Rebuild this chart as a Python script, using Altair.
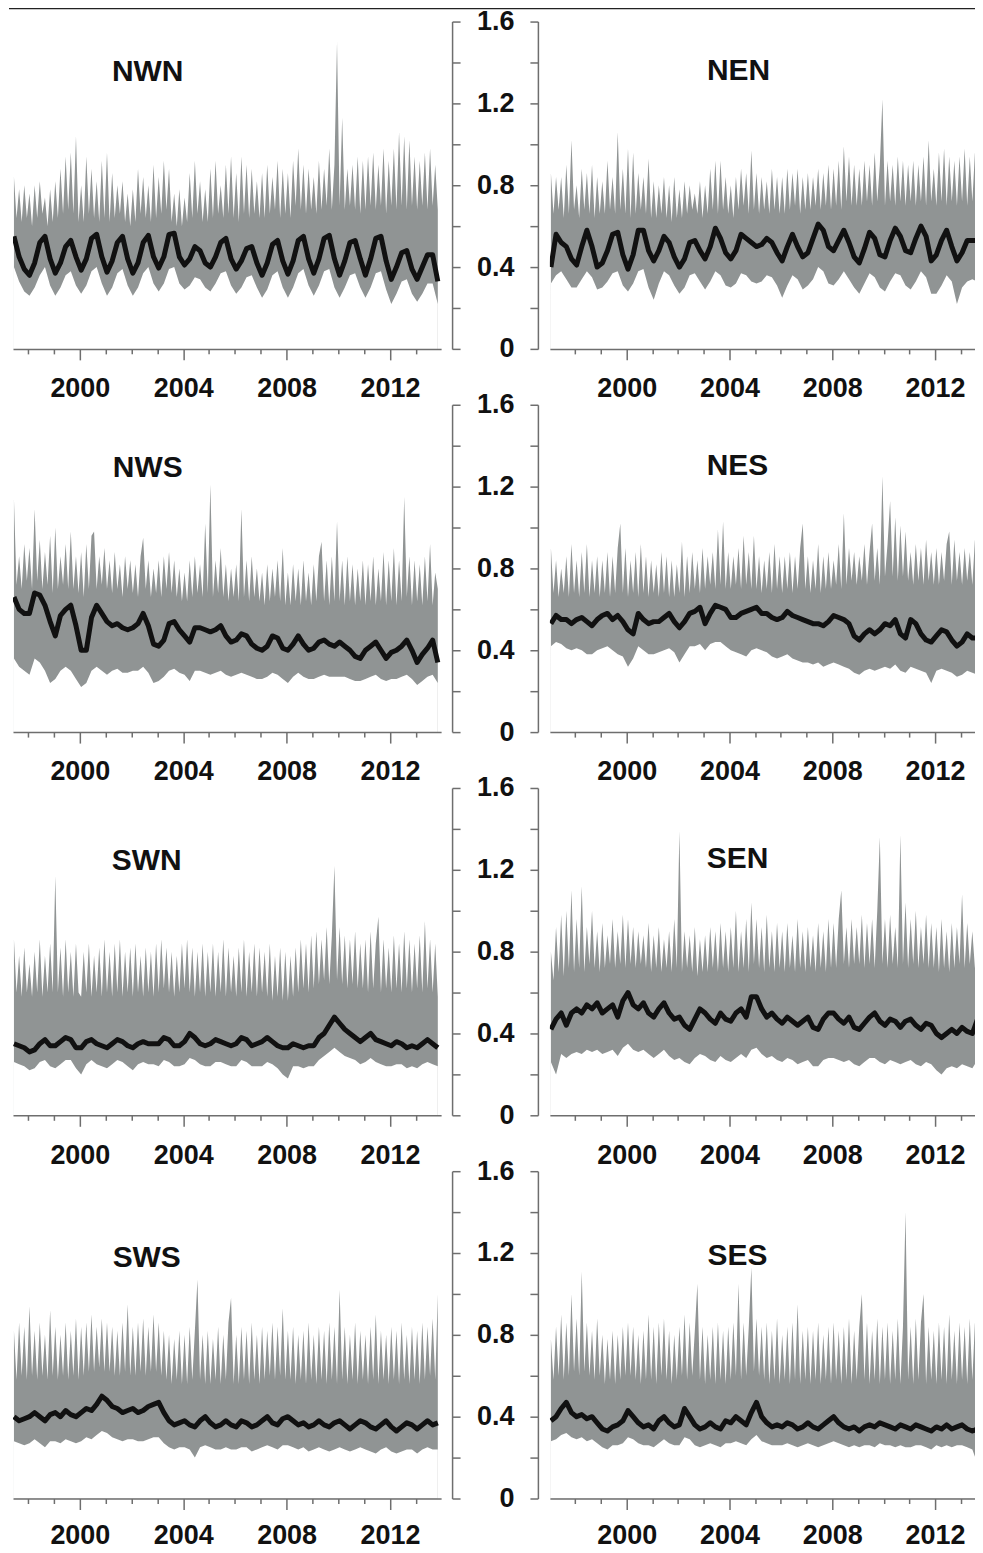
import altair as alt
import pandas as pd

# ---- time grids (decimal years) ----
LEFT_T0 = 1997.45     # first sample of the left-column panels
RIGHT_T0 = 1997.05    # first sample of the right-column panels
UP_STEP = 0.1         # spacing of the upper-envelope samples
LOW_STEP = 0.2        # spacing of lower-envelope and running-mean samples

YEAR_TICKS = list(range(1998, 2014))
Y_TICKS = [0, 0.2, 0.4, 0.6, 0.8, 1.0, 1.2, 1.4, 1.6]

# ================= NWN =================
NWN_UP = [0.84, 0.64, 0.78, 0.62, 0.80, 0.64,
          0.76, 0.60, 0.80, 0.64, 0.82, 0.66, 0.74, 0.60, 0.78, 0.62,
          0.82, 0.64, 0.88, 0.66, 0.94, 0.68, 0.96, 0.66, 1.04, 0.62,
          0.80, 0.62, 0.94, 0.66, 0.88, 0.64, 0.82, 0.62, 0.92, 0.64,
          0.96, 0.62, 0.86, 0.64, 0.80, 0.66, 0.82, 0.62, 0.76, 0.60,
          0.78, 0.62, 0.88, 0.66, 0.84, 0.64, 0.80, 0.62, 0.90, 0.64,
          0.84, 0.66, 0.92, 0.68, 0.88, 0.62, 0.76, 0.60, 0.78, 0.60,
          0.74, 0.62, 0.86, 0.64, 0.92, 0.66, 0.82, 0.62, 0.78, 0.62,
          0.88, 0.64, 0.92, 0.66, 0.80, 0.64, 0.90, 0.66, 0.94, 0.64,
          0.86, 0.62, 0.94, 0.66, 0.90, 0.64, 0.88, 0.66, 0.82, 0.64,
          0.86, 0.64, 0.90, 0.66, 0.84, 0.68, 0.92, 0.64, 0.88, 0.66,
          0.86, 0.64, 0.92, 0.70, 0.98, 0.68, 0.90, 0.66, 0.88, 0.68,
          0.84, 0.66, 0.92, 0.68, 0.88, 0.70, 0.98, 0.68, 0.90, 1.50,
          0.70, 1.13, 0.68, 0.88, 0.70, 0.90, 0.68, 0.94, 0.66, 0.92,
          0.68, 0.94, 0.70, 0.96, 0.68, 0.90, 0.70, 0.98, 0.66, 0.92,
          0.70, 0.98, 0.68, 1.06, 0.70, 1.04, 0.68, 1.02, 0.70, 0.94,
          0.68, 0.92, 0.70, 0.96, 0.68, 0.98, 0.70, 0.90, 0.68]
NWN_LO = [0.40, 0.33, 0.28,
          0.26, 0.30, 0.36, 0.40, 0.31,
          0.26, 0.30, 0.36, 0.38, 0.31,
          0.27, 0.31, 0.38, 0.40, 0.32,
          0.26, 0.30, 0.37, 0.39, 0.31,
          0.26, 0.30, 0.37, 0.40, 0.32,
          0.28, 0.32, 0.39, 0.40, 0.32,
          0.29, 0.31, 0.35, 0.34, 0.30,
          0.28, 0.32, 0.37, 0.38, 0.31,
          0.27, 0.30, 0.35, 0.36, 0.30,
          0.25, 0.29, 0.36, 0.38, 0.30,
          0.25, 0.30, 0.37, 0.39, 0.31,
          0.26, 0.31, 0.38, 0.39, 0.30,
          0.25, 0.30, 0.36, 0.37, 0.30,
          0.25, 0.30, 0.37, 0.38, 0.29,
          0.22, 0.27, 0.33, 0.34, 0.27,
          0.23, 0.27, 0.32, 0.32, 0.22]
NWN_MEAN = [0.55, 0.45, 0.39,
            0.36, 0.42, 0.52, 0.55, 0.44,
            0.37, 0.42, 0.50, 0.53, 0.45,
            0.385, 0.44, 0.54, 0.56, 0.45,
            0.375, 0.43, 0.52, 0.55, 0.44,
            0.37, 0.42, 0.52, 0.555, 0.45,
            0.395, 0.45, 0.56, 0.565, 0.45,
            0.41, 0.44, 0.50, 0.48, 0.42,
            0.40, 0.45, 0.52, 0.54, 0.44,
            0.39, 0.43, 0.49, 0.50, 0.42,
            0.36, 0.42, 0.51, 0.53, 0.43,
            0.365, 0.43, 0.53, 0.55, 0.44,
            0.37, 0.44, 0.54, 0.555, 0.44,
            0.36, 0.43, 0.52, 0.53, 0.44,
            0.36, 0.44, 0.54, 0.55, 0.43,
            0.34, 0.40, 0.47, 0.48, 0.39,
            0.34, 0.40, 0.46, 0.46, 0.33]

# ================= NEN =================
NEN_UP = [0.86, 0.66, 0.84, 0.68, 0.84, 0.64, 0.90, 0.66, 1.02, 0.68,
          0.80, 0.64, 0.88, 0.68, 0.86, 0.66, 0.90, 0.64, 0.84, 0.66,
          0.82, 0.66, 0.92, 0.68, 0.84, 0.66, 1.06, 0.68, 0.88, 0.66,
          0.98, 0.64, 0.96, 0.66, 0.86, 0.68, 0.84, 0.66, 0.93, 0.64,
          0.82, 0.64, 0.80, 0.66, 0.84, 0.64, 0.80, 0.62, 0.84, 0.64,
          0.78, 0.64, 0.82, 0.66, 0.80, 0.68, 0.76, 0.66, 0.82, 0.64,
          0.80, 0.66, 0.88, 0.68, 0.92, 0.66, 0.92, 0.68, 0.84, 0.66,
          0.80, 0.64, 0.84, 0.68, 0.88, 0.70, 0.86, 0.66, 0.97, 0.68,
          0.86, 0.66, 0.84, 0.68, 0.82, 0.66, 0.88, 0.68, 0.84, 0.66,
          0.84, 0.66, 0.88, 0.68, 0.86, 0.70, 0.88, 0.66, 0.84, 0.68,
          0.86, 0.68, 0.84, 0.70, 0.88, 0.68, 0.86, 0.70, 0.90, 0.68,
          0.88, 0.70, 0.92, 0.68, 0.99, 0.72, 0.94, 0.70, 0.90, 0.70,
          0.88, 0.70, 0.92, 0.72, 0.90, 0.70, 0.96, 0.72, 0.90, 1.22,
          0.70, 0.92, 0.72, 0.90, 0.70, 0.94, 0.72, 0.92, 0.70, 0.90,
          0.72, 0.92, 0.70, 0.90, 0.72, 0.94, 0.70, 1.02, 0.72, 0.88,
          0.70, 0.96, 0.72, 0.98, 0.70, 0.94, 0.72, 0.92, 0.70, 0.94,
          0.72, 0.98, 0.70, 0.94, 0.72, 0.96, 0.70, 0.92]
NEN_LO = [0.32, 0.36, 0.38, 0.34, 0.30,
          0.30, 0.34, 0.38, 0.35, 0.29,
          0.30, 0.33, 0.37, 0.38, 0.31,
          0.28, 0.32, 0.38, 0.39, 0.30,
          0.24, 0.32, 0.38, 0.36, 0.31,
          0.27, 0.30, 0.36, 0.37, 0.33,
          0.29, 0.33, 0.38, 0.36, 0.31,
          0.30, 0.32, 0.37, 0.36, 0.33,
          0.32, 0.33, 0.36, 0.35, 0.31,
          0.25, 0.31, 0.36, 0.34, 0.29,
          0.31, 0.34, 0.40, 0.38, 0.32,
          0.31, 0.34, 0.38, 0.34, 0.30,
          0.27, 0.32, 0.37, 0.35, 0.30,
          0.28, 0.33, 0.37, 0.36, 0.31,
          0.29, 0.33, 0.38, 0.35, 0.27,
          0.27, 0.31, 0.36, 0.33, 0.22,
          0.30, 0.33, 0.34, 0.33]
NEN_MEAN = [0.40, 0.56, 0.52, 0.50, 0.44,
            0.41, 0.50, 0.58, 0.50, 0.40,
            0.42, 0.48, 0.56, 0.57, 0.46,
            0.39, 0.46, 0.58, 0.58, 0.48,
            0.43, 0.48, 0.55, 0.52, 0.45,
            0.40, 0.44, 0.52, 0.53, 0.48,
            0.44, 0.50, 0.59, 0.54, 0.47,
            0.44, 0.48, 0.56, 0.54, 0.52,
            0.50, 0.51, 0.54, 0.52, 0.47,
            0.43, 0.50, 0.56, 0.50, 0.45,
            0.47, 0.54, 0.61, 0.58, 0.50,
            0.48, 0.53, 0.58, 0.52, 0.45,
            0.42, 0.49, 0.57, 0.54, 0.46,
            0.45, 0.53, 0.59, 0.55, 0.48,
            0.47, 0.54, 0.60, 0.55, 0.43,
            0.46, 0.53, 0.58, 0.50, 0.43,
            0.47, 0.53, 0.53, 0.53]

# ================= NWS =================
NWS_UP = [1.14, 0.72, 0.86, 0.70, 0.92, 0.74,
          0.90, 0.70, 1.09, 0.74, 0.94, 0.70, 0.88, 0.72, 0.96, 0.68,
          1.00, 0.70, 0.86, 0.72, 0.92, 0.70, 0.98, 0.70, 0.86, 0.68,
          0.88, 0.66, 0.92, 0.70, 0.96, 0.98, 0.70, 0.86, 0.72, 0.90,
          0.70, 0.84, 0.68, 0.88, 0.70, 0.82, 0.66, 0.86, 0.70, 0.84,
          0.68, 0.82, 0.66, 0.86, 0.95, 0.70, 0.84, 0.66, 0.80, 0.68,
          0.84, 0.66, 0.86, 0.70, 0.88, 0.68, 0.84, 0.66, 0.80, 0.64,
          0.78, 0.64, 0.84, 0.66, 0.86, 0.68, 0.82, 0.66, 1.02, 0.68,
          1.21, 0.66, 0.84, 0.68, 0.90, 0.66, 0.82, 0.64, 0.80, 0.66,
          0.82, 0.64, 1.09, 0.66, 0.84, 0.64, 0.86, 0.66, 0.80, 0.64,
          0.78, 0.62, 0.82, 0.64, 0.80, 0.66, 0.84, 0.64, 0.90, 0.62,
          0.78, 0.62, 0.82, 0.64, 0.80, 0.62, 0.84, 0.64, 0.78, 0.62,
          0.82, 0.64, 0.86, 0.93, 0.64, 0.84, 0.62, 0.86, 0.64, 1.03,
          0.64, 0.84, 0.62, 0.86, 0.64, 0.82, 0.62, 0.80, 0.64, 0.84,
          0.62, 0.82, 0.64, 0.86, 0.62, 0.80, 0.64, 0.88, 0.62, 0.84,
          0.64, 0.90, 0.62, 0.84, 0.64, 1.15, 0.66, 0.86, 0.62, 0.84,
          0.64, 0.82, 0.62, 0.86, 0.64, 0.92, 0.62, 0.78, 0.70]
NWS_LO = [0.36, 0.32, 0.30,
          0.28, 0.36, 0.34, 0.30, 0.24,
          0.26, 0.30, 0.32, 0.30, 0.26,
          0.22, 0.24, 0.30, 0.32, 0.30,
          0.28, 0.30, 0.31, 0.29, 0.29,
          0.30, 0.30, 0.32, 0.29, 0.24,
          0.25, 0.27, 0.30, 0.31, 0.29,
          0.28, 0.25, 0.30, 0.30, 0.29,
          0.28, 0.29, 0.30, 0.28, 0.27,
          0.28, 0.29, 0.28, 0.27, 0.26,
          0.26, 0.27, 0.29, 0.28, 0.26,
          0.24, 0.27, 0.29, 0.27, 0.26,
          0.26, 0.27, 0.28, 0.27, 0.27,
          0.27, 0.27, 0.26, 0.25, 0.25,
          0.26, 0.27, 0.28, 0.26, 0.25,
          0.26, 0.26, 0.27, 0.28, 0.26,
          0.23, 0.25, 0.27, 0.28, 0.24]
NWS_MEAN = [0.66, 0.60, 0.58,
            0.58, 0.68, 0.67, 0.62, 0.54,
            0.47, 0.57, 0.60, 0.62, 0.52,
            0.40, 0.40, 0.56, 0.62, 0.58,
            0.54, 0.52, 0.53, 0.51, 0.50,
            0.51, 0.53, 0.58, 0.52, 0.43,
            0.42, 0.45, 0.53, 0.54, 0.50,
            0.47, 0.44, 0.51, 0.51, 0.50,
            0.49, 0.50, 0.52, 0.47, 0.44,
            0.45, 0.48, 0.47, 0.43, 0.41,
            0.40, 0.42, 0.47, 0.46, 0.41,
            0.40, 0.43, 0.47, 0.43, 0.40,
            0.41, 0.44, 0.45, 0.43, 0.42,
            0.44, 0.42, 0.40, 0.37, 0.36,
            0.40, 0.42, 0.44, 0.40, 0.36,
            0.39, 0.40, 0.42, 0.45, 0.40,
            0.34, 0.38, 0.41, 0.45, 0.34]

# ================= NES =================
NES_UP = [0.90, 0.68, 0.84, 0.66, 0.80, 0.68, 0.86, 0.66, 0.92, 0.68,
          0.84, 0.66, 0.88, 0.68, 0.92, 0.66, 0.84, 0.68, 0.86, 0.66,
          0.84, 0.68, 0.88, 0.66, 0.86, 0.68, 0.90, 1.02, 0.68, 0.90,
          0.66, 0.84, 0.68, 0.88, 0.66, 0.92, 0.68, 0.86, 0.66, 0.84,
          0.68, 0.82, 0.66, 0.88, 0.68, 0.86, 0.66, 0.84, 0.66, 0.82,
          0.68, 0.93, 0.66, 0.86, 0.68, 0.88, 0.70, 0.84, 0.68, 0.90,
          0.70, 0.86, 0.72, 0.88, 0.70, 0.99, 0.72, 1.03, 0.70, 0.88,
          0.70, 0.86, 0.72, 0.90, 0.70, 0.96, 0.72, 0.88, 0.70, 0.96,
          0.70, 0.86, 0.68, 0.84, 0.70, 0.88, 0.68, 0.92, 0.70, 0.86,
          0.68, 0.86, 0.70, 0.88, 0.68, 0.86, 0.70, 0.90, 1.02, 0.70,
          0.86, 0.68, 0.84, 0.70, 0.92, 0.68, 0.86, 0.70, 0.88, 0.70,
          0.84, 0.72, 0.92, 0.70, 1.07, 0.72, 0.90, 0.74, 0.88, 0.72,
          0.86, 0.74, 0.92, 0.72, 0.88, 1.02, 0.74, 0.90, 0.72, 1.25,
          0.76, 0.92, 1.13, 0.76, 1.05, 0.74, 1.01, 0.76, 0.98, 0.74,
          0.88, 0.72, 0.92, 0.74, 0.90, 0.72, 0.94, 0.74, 0.88, 0.72,
          0.90, 0.72, 0.88, 0.74, 0.92, 0.98, 0.72, 0.94, 0.74, 0.88,
          0.72, 0.90, 0.74, 0.88, 0.72, 0.94, 0.74, 0.92]
NES_LO = [0.42, 0.44, 0.43, 0.41, 0.40,
          0.41, 0.40, 0.38, 0.38, 0.40,
          0.41, 0.42, 0.40, 0.38, 0.37,
          0.32, 0.36, 0.42, 0.40, 0.38,
          0.38, 0.39, 0.40, 0.41, 0.39,
          0.34, 0.38, 0.42, 0.42, 0.43,
          0.40, 0.43, 0.44, 0.44, 0.42,
          0.40, 0.39, 0.38, 0.37, 0.40,
          0.41, 0.40, 0.39, 0.37, 0.36,
          0.37, 0.38, 0.36, 0.35, 0.34,
          0.34, 0.33, 0.34, 0.32, 0.33,
          0.34, 0.33, 0.32, 0.31, 0.29,
          0.28, 0.30, 0.31, 0.30, 0.31,
          0.32, 0.31, 0.33, 0.30, 0.29,
          0.32, 0.31, 0.30, 0.29, 0.24,
          0.30, 0.31, 0.30, 0.29, 0.27,
          0.28, 0.30, 0.29, 0.28]
NES_MEAN = [0.53, 0.57, 0.55, 0.55, 0.53,
            0.55, 0.56, 0.54, 0.52, 0.55,
            0.57, 0.58, 0.55, 0.57, 0.54,
            0.50, 0.48, 0.58, 0.55, 0.53,
            0.54, 0.54, 0.56, 0.58, 0.54,
            0.51, 0.54, 0.58, 0.59, 0.61,
            0.53, 0.58, 0.62, 0.61, 0.60,
            0.56, 0.56, 0.58, 0.59, 0.60,
            0.61, 0.58, 0.58, 0.56, 0.55,
            0.56, 0.59, 0.57, 0.56, 0.55,
            0.54, 0.53, 0.53, 0.52, 0.54,
            0.57, 0.56, 0.55, 0.53, 0.47,
            0.45, 0.48, 0.50, 0.48, 0.50,
            0.53, 0.52, 0.55, 0.48, 0.46,
            0.55, 0.53, 0.48, 0.45, 0.44,
            0.47, 0.50, 0.49, 0.45, 0.42,
            0.44, 0.48, 0.46, 0.46]

# ================= SWN =================
SWN_UP = [0.86, 0.60, 0.78, 0.58, 0.82, 0.60,
          0.74, 0.58, 0.80, 0.60, 0.86, 0.58, 0.78, 0.60, 0.84, 0.60,
          1.17, 0.60, 0.82, 0.58, 0.86, 0.60, 0.80, 0.58, 0.84, 0.60,
          0.58, 0.80, 0.60, 0.84, 0.58, 0.78, 0.60, 0.82, 0.58, 0.86,
          0.60, 0.80, 0.58, 0.84, 0.60, 0.86, 0.58, 0.80, 0.60, 0.82,
          0.58, 0.84, 0.60, 0.78, 0.58, 0.82, 0.60, 0.80, 0.58, 0.84,
          0.60, 0.86, 0.62, 0.82, 0.60, 0.80, 0.58, 0.78, 0.60, 0.84,
          0.62, 0.86, 0.60, 0.82, 0.58, 0.80, 0.60, 0.84, 0.58, 0.80,
          0.60, 0.84, 0.58, 0.80, 0.60, 0.86, 0.58, 0.82, 0.60, 0.78,
          0.58, 0.82, 0.60, 0.86, 0.58, 0.80, 0.60, 0.84, 0.58, 0.82,
          0.60, 0.80, 0.58, 0.84, 0.56, 0.78, 0.58, 0.82, 0.56, 0.80,
          0.56, 0.78, 0.58, 0.82, 0.60, 0.86, 0.62, 0.84, 0.60, 0.88,
          0.62, 0.90, 0.64, 0.86, 0.66, 0.92, 0.64, 0.88, 1.22, 0.66,
          0.92, 0.64, 0.88, 0.62, 0.86, 0.64, 0.90, 0.62, 0.84, 0.62,
          0.86, 0.60, 0.90, 0.62, 0.84, 0.97, 0.60, 0.86, 0.62, 0.82,
          0.60, 0.88, 0.62, 0.84, 0.60, 0.90, 0.62, 0.86, 0.60, 0.84,
          0.62, 0.88, 0.60, 0.95, 0.62, 0.86, 0.60, 0.84, 0.58]
SWN_LO = [0.26, 0.25, 0.24,
          0.22, 0.23, 0.26, 0.27, 0.24,
          0.23, 0.25, 0.27, 0.27, 0.23,
          0.20, 0.25, 0.27, 0.25, 0.24,
          0.23, 0.25, 0.27, 0.26, 0.24,
          0.22, 0.25, 0.26, 0.25, 0.25,
          0.24, 0.27, 0.26, 0.24, 0.24,
          0.25, 0.28, 0.27, 0.25, 0.24,
          0.24, 0.26, 0.26, 0.25, 0.24,
          0.24, 0.27, 0.26, 0.24, 0.24,
          0.24, 0.26, 0.25, 0.23, 0.20,
          0.18, 0.24, 0.24, 0.23, 0.24,
          0.24, 0.27, 0.29, 0.31, 0.33,
          0.31, 0.29, 0.28, 0.27, 0.25,
          0.26, 0.28, 0.26, 0.25, 0.24,
          0.24, 0.25, 0.25, 0.23, 0.24,
          0.23, 0.25, 0.26, 0.25, 0.24]
SWN_MEAN = [0.35, 0.34, 0.33,
            0.31, 0.32, 0.35, 0.37, 0.34,
            0.34, 0.36, 0.38, 0.37, 0.33,
            0.33, 0.36, 0.37, 0.35, 0.34,
            0.33, 0.35, 0.37, 0.36, 0.34,
            0.33, 0.35, 0.36, 0.35, 0.35,
            0.35, 0.38, 0.37, 0.34, 0.34,
            0.36, 0.40, 0.38, 0.35, 0.34,
            0.35, 0.37, 0.36, 0.35, 0.34,
            0.35, 0.38, 0.37, 0.34, 0.35,
            0.36, 0.38, 0.36, 0.34, 0.33,
            0.33, 0.35, 0.34, 0.33, 0.34,
            0.34, 0.38, 0.40, 0.44, 0.48,
            0.45, 0.42, 0.40, 0.38, 0.36,
            0.38, 0.40, 0.37, 0.36, 0.35,
            0.34, 0.36, 0.35, 0.33, 0.34,
            0.33, 0.35, 0.37, 0.35, 0.33]

# ================= SEN =================
SEN_UP = [0.80, 0.66, 0.92, 0.70, 0.98, 0.68, 1.00, 0.72, 1.10, 0.70,
          0.96, 0.72, 1.12, 0.70, 0.92, 0.74, 1.00, 0.72, 0.90, 0.70,
          0.94, 0.72, 0.88, 0.74, 0.96, 0.72, 0.90, 0.74, 0.98, 0.72,
          0.96, 0.74, 0.92, 0.72, 0.90, 0.74, 0.88, 0.72, 0.94, 0.70,
          0.88, 0.72, 0.92, 0.70, 0.86, 0.72, 0.90, 0.70, 0.96, 0.72,
          1.39, 0.70, 0.90, 0.72, 0.88, 0.70, 0.92, 0.68, 0.86, 0.70,
          0.88, 0.70, 0.92, 0.72, 0.90, 0.70, 0.94, 0.72, 0.90, 0.70,
          0.92, 0.72, 1.00, 0.70, 0.90, 0.72, 0.96, 0.70, 1.04, 0.74,
          0.96, 0.72, 0.92, 0.70, 0.98, 0.72, 0.90, 0.70, 0.94, 0.72,
          0.90, 0.70, 0.94, 0.72, 0.88, 0.70, 0.96, 0.72, 0.90, 0.70,
          0.92, 0.72, 0.88, 0.70, 0.94, 0.72, 0.90, 0.70, 0.96, 0.72,
          0.94, 0.72, 0.96, 1.10, 0.74, 0.92, 0.72, 0.96, 0.74, 0.92,
          0.74, 0.98, 0.72, 0.94, 0.74, 0.96, 0.72, 1.00, 1.36, 0.74,
          0.96, 0.72, 0.98, 0.74, 0.92, 0.72, 1.37, 0.74, 1.04, 0.72,
          0.96, 0.74, 1.00, 0.72, 0.92, 0.74, 0.98, 0.72, 0.94, 0.72,
          0.92, 0.70, 0.96, 0.72, 0.90, 0.70, 0.94, 0.72, 0.92, 0.74,
          1.08, 0.72, 0.94, 0.74, 0.90, 0.72, 0.96, 0.74]
SEN_LO = [0.26, 0.20, 0.30, 0.28, 0.30,
          0.31, 0.30, 0.32, 0.31, 0.32,
          0.30, 0.31, 0.32, 0.29, 0.33,
          0.35, 0.32, 0.31, 0.32, 0.30,
          0.28, 0.30, 0.32, 0.29, 0.27,
          0.28, 0.26, 0.25, 0.28, 0.30,
          0.29, 0.27, 0.26, 0.29, 0.27,
          0.26, 0.28, 0.30, 0.28, 0.32,
          0.33, 0.30, 0.28, 0.29, 0.27,
          0.26, 0.28, 0.27, 0.25, 0.26,
          0.27, 0.24, 0.24, 0.27, 0.28,
          0.28, 0.27, 0.26, 0.27, 0.25,
          0.24, 0.26, 0.28, 0.28, 0.26,
          0.25, 0.27, 0.26, 0.25, 0.26,
          0.27, 0.25, 0.24, 0.26, 0.25,
          0.22, 0.20, 0.23, 0.24, 0.23,
          0.25, 0.24, 0.23, 0.27]
SEN_MEAN = [0.42, 0.47, 0.50, 0.44, 0.50,
            0.52, 0.50, 0.54, 0.52, 0.55,
            0.50, 0.52, 0.54, 0.48, 0.56,
            0.60, 0.54, 0.52, 0.55, 0.50,
            0.48, 0.52, 0.55, 0.50, 0.47,
            0.48, 0.44, 0.42, 0.47, 0.52,
            0.50, 0.47, 0.45, 0.50, 0.47,
            0.46, 0.50, 0.52, 0.48, 0.58,
            0.58, 0.52, 0.48, 0.50, 0.47,
            0.45, 0.48, 0.46, 0.44, 0.46,
            0.48, 0.43, 0.42, 0.47, 0.50,
            0.50, 0.47, 0.45, 0.48, 0.43,
            0.42, 0.45, 0.48, 0.50, 0.46,
            0.44, 0.47, 0.46, 0.43, 0.46,
            0.47, 0.44, 0.42, 0.45, 0.44,
            0.40, 0.38, 0.40, 0.42, 0.40,
            0.43, 0.41, 0.40, 0.47]

# ================= SWS =================
SWS_UP = [0.82, 0.58, 0.86, 0.60, 0.84, 0.58,
          0.94, 0.60, 0.82, 0.58, 0.86, 0.60, 0.80, 0.58, 0.92, 0.60,
          0.84, 0.58, 0.80, 0.60, 0.86, 0.58, 0.82, 0.60, 0.88, 0.58,
          0.84, 0.60, 0.86, 0.62, 0.90, 0.62, 0.84, 0.64, 0.88, 0.62,
          0.86, 0.62, 0.84, 0.60, 0.82, 0.60, 0.86, 0.62, 0.95, 0.60,
          0.84, 0.60, 0.86, 0.62, 0.88, 0.60, 0.84, 0.62, 0.90, 0.62,
          0.86, 0.60, 0.82, 0.58, 0.80, 0.56, 0.78, 0.58, 0.82, 0.56,
          0.80, 0.56, 0.84, 0.58, 0.82, 1.07, 0.58, 0.80, 0.56, 0.82,
          0.56, 0.78, 0.58, 0.84, 0.56, 0.80, 0.58, 0.86, 0.98, 0.56,
          0.80, 0.56, 0.84, 0.58, 0.82, 0.56, 0.86, 0.58, 0.80, 0.56,
          0.84, 0.58, 0.82, 0.60, 0.86, 0.58, 0.84, 0.60, 0.93, 0.58,
          0.82, 0.58, 0.84, 0.56, 0.80, 0.58, 0.82, 0.56, 0.86, 0.58,
          0.80, 0.56, 0.84, 0.58, 0.82, 0.56, 0.86, 0.58, 0.84, 0.56,
          1.02, 0.58, 0.84, 0.56, 0.80, 0.58, 0.86, 0.56, 0.82, 0.58,
          0.80, 0.56, 0.84, 0.58, 0.90, 0.56, 0.82, 0.58, 0.80, 0.56,
          0.84, 0.58, 0.82, 0.56, 0.86, 0.58, 0.80, 0.56, 0.84, 0.58,
          0.82, 0.56, 0.86, 0.58, 0.84, 0.60, 0.88, 0.58, 1.00]
SWS_LO = [0.28, 0.27, 0.26,
          0.27, 0.29, 0.27, 0.25, 0.28,
          0.28, 0.27, 0.29, 0.28, 0.27,
          0.28, 0.30, 0.29, 0.31, 0.33,
          0.32, 0.30, 0.29, 0.28, 0.29,
          0.29, 0.28, 0.28, 0.29, 0.30,
          0.30, 0.27, 0.25, 0.24, 0.25,
          0.25, 0.24, 0.20, 0.25, 0.26,
          0.25, 0.24, 0.24, 0.25, 0.24,
          0.24, 0.25, 0.25, 0.23, 0.24,
          0.25, 0.26, 0.25, 0.24, 0.26,
          0.26, 0.25, 0.24, 0.25, 0.23,
          0.24, 0.25, 0.24, 0.23, 0.24,
          0.25, 0.24, 0.23, 0.24, 0.25,
          0.24, 0.23, 0.22, 0.24, 0.25,
          0.23, 0.22, 0.23, 0.24, 0.24,
          0.22, 0.24, 0.25, 0.24, 0.24]
SWS_MEAN = [0.40, 0.38, 0.39,
            0.40, 0.42, 0.40, 0.38, 0.41,
            0.42, 0.40, 0.43, 0.41, 0.40,
            0.42, 0.44, 0.43, 0.46, 0.50,
            0.48, 0.45, 0.44, 0.42, 0.43,
            0.44, 0.42, 0.43, 0.45, 0.46,
            0.47, 0.42, 0.38, 0.36, 0.37,
            0.38, 0.36, 0.35, 0.38, 0.40,
            0.37, 0.35, 0.36, 0.38, 0.36,
            0.35, 0.38, 0.37, 0.35, 0.36,
            0.38, 0.40, 0.37, 0.36, 0.39,
            0.40, 0.38, 0.36, 0.37, 0.35,
            0.36, 0.38, 0.36, 0.35, 0.37,
            0.38, 0.36, 0.34, 0.36, 0.38,
            0.37, 0.35, 0.34, 0.36, 0.38,
            0.35, 0.33, 0.35, 0.37, 0.36,
            0.34, 0.36, 0.38, 0.36, 0.37]

# ================= SES =================
SES_UP = [0.78, 0.58, 0.84, 0.60, 0.90, 0.58, 0.86, 0.60, 1.00, 0.62,
          0.88, 0.60, 1.11, 0.62, 0.86, 0.60, 0.82, 0.58, 0.88, 0.60,
          0.80, 0.56, 0.78, 0.58, 0.82, 0.56, 0.80, 0.58, 0.84, 0.60,
          0.86, 0.60, 0.84, 0.58, 0.80, 0.56, 0.82, 0.58, 0.90, 0.58,
          0.84, 0.56, 0.86, 0.60, 0.88, 0.58, 0.82, 0.56, 0.80, 0.58,
          0.84, 0.60, 0.90, 0.58, 0.86, 0.60, 0.82, 1.05, 0.58, 0.84,
          0.56, 0.80, 0.58, 0.84, 0.56, 0.86, 0.58, 0.82, 0.56, 0.84,
          0.58, 0.86, 0.60, 1.05, 0.58, 0.86, 0.60, 0.84, 1.13, 0.62,
          0.88, 0.60, 0.84, 0.58, 0.86, 0.56, 0.82, 0.58, 0.88, 0.56,
          0.80, 0.58, 0.84, 0.56, 0.86, 0.58, 0.95, 0.56, 0.82, 0.58,
          0.84, 0.56, 0.82, 0.58, 0.86, 0.56, 0.80, 0.58, 0.84, 0.56,
          0.86, 0.58, 0.82, 0.56, 0.84, 0.58, 0.88, 0.56, 0.82, 0.58,
          0.84, 1.00, 0.58, 0.86, 0.56, 0.82, 0.58, 0.88, 0.56, 0.84,
          0.58, 0.86, 0.56, 0.82, 0.58, 0.88, 0.56, 0.84, 1.40, 0.58,
          0.84, 0.56, 0.88, 0.58, 0.86, 1.00, 0.56, 0.84, 0.58, 0.82,
          0.56, 0.86, 0.58, 0.84, 0.56, 0.90, 0.58, 0.82, 0.56, 0.86,
          0.58, 0.84, 0.56, 0.88, 0.58, 0.86, 0.56, 0.82]
SES_LO = [0.28, 0.29, 0.31, 0.32, 0.30,
          0.29, 0.30, 0.28, 0.29, 0.27,
          0.25, 0.24, 0.26, 0.26, 0.27,
          0.30, 0.29, 0.27, 0.26, 0.26,
          0.25, 0.27, 0.29, 0.27, 0.26,
          0.26, 0.30, 0.29, 0.26, 0.25,
          0.26, 0.27, 0.26, 0.25, 0.27,
          0.27, 0.28, 0.27, 0.26, 0.29,
          0.31, 0.28, 0.27, 0.26, 0.26,
          0.26, 0.27, 0.26, 0.25, 0.26,
          0.27, 0.26, 0.25, 0.26, 0.27,
          0.28, 0.27, 0.26, 0.25, 0.26,
          0.25, 0.26, 0.26, 0.25, 0.27,
          0.26, 0.26, 0.25, 0.26, 0.25,
          0.25, 0.26, 0.26, 0.25, 0.24,
          0.26, 0.25, 0.26, 0.25, 0.26,
          0.26, 0.25, 0.24, 0.17]
SES_MEAN = [0.38, 0.40, 0.44, 0.47, 0.42,
            0.40, 0.41, 0.39, 0.40, 0.37,
            0.34, 0.33, 0.35, 0.36, 0.38,
            0.43, 0.40, 0.37, 0.35, 0.36,
            0.34, 0.38, 0.40, 0.37, 0.35,
            0.36, 0.44, 0.40, 0.36, 0.34,
            0.35, 0.37, 0.35, 0.34, 0.38,
            0.37, 0.40, 0.38, 0.36, 0.42,
            0.47, 0.40, 0.37, 0.35, 0.36,
            0.35, 0.37, 0.36, 0.34, 0.35,
            0.37, 0.35, 0.34, 0.36, 0.38,
            0.40, 0.37, 0.35, 0.34, 0.35,
            0.33, 0.35, 0.36, 0.35, 0.37,
            0.36, 0.35, 0.34, 0.36, 0.35,
            0.34, 0.36, 0.35, 0.34, 0.33,
            0.35, 0.34, 0.36, 0.34, 0.35,
            0.36, 0.34, 0.33, 0.34]

# ---- panel layout: (name, up, lo, mean, column, title position in plot px) ----
PANELS = [
    ("NWN", NWN_UP, NWN_LO, NWN_MEAN, "L", (135, 51)),
    ("NEN", NEN_UP, NEN_LO, NEN_MEAN, "R", (189, 50)),
    ("NWS", NWS_UP, NWS_LO, NWS_MEAN, "L", (135, 63)),
    ("NES", NES_UP, NES_LO, NES_MEAN, "R", (188, 61)),
    ("SWN", SWN_UP, SWN_LO, SWN_MEAN, "L", (134, 73)),
    ("SEN", SEN_UP, SEN_LO, SEN_MEAN, "R", (188, 71)),
    ("SWS", SWS_UP, SWS_LO, SWS_MEAN, "L", (134, 87)),
    ("SES", SES_UP, SES_LO, SES_MEAN, "R", (188, 85)),
]

GRAY = "#909494"
INK = "#111111"
AXIS_GRAY = "#6e6e6e"
FONT = "Liberation Sans"
PANEL_H = 328


def make_panel(name, up, lo, mean, side, title_xy, with_top_rule=False, bottom_row=False):
    if side == "L":
        t0, dom, width = LEFT_T0, [1997.413, 2013.977], 429
    else:
        t0, dom, width = RIGHT_T0, [1997.01, 2013.825], 433
    up_df = pd.DataFrame({"t": [t0 + UP_STEP * i for i in range(len(up))], "v": up})
    lo_df = pd.DataFrame({"t": [t0 + LOW_STEP * i for i in range(len(lo))], "v": lo})
    mean_df = pd.DataFrame({"t": [t0 + LOW_STEP * i for i in range(len(mean))], "v": mean})

    xs = alt.Scale(domain=dom, nice=False, zero=False)
    ys = alt.Scale(domain=[0, 1.6], nice=False)
    xaxis = alt.Axis(
        values=YEAR_TICKS, format="d",
        labelExpr="datum.value % 4 === 0 ? datum.label : ''",
        tickSize={"condition": {"test": "datum.value % 4 === 0", "value": 11}, "value": 5},
        labelPadding=13 if bottom_row else 16,
        labelFlush=False, labelOverlap=False, labelBound=False,
        grid=False, zindex=1,
    )
    yaxis = alt.Axis(
        orient="right" if side == "L" else "left",
        offset=11 if side == "L" else 12,
        values=Y_TICKS, tickSize=8, labels=(side == "R"),
        labelExpr="round(datum.value * 10) % 4 === 0 ? (datum.value === 0 ? '0' : format(datum.value, '.1f')) : ''",
        labelPadding=16, labelOverlap=False, labelFlush=False, labelBound=False,
        grid=False, zindex=1,
    )
    X = alt.X("t:Q", scale=xs, axis=xaxis, title=None)
    Y = alt.Y("v:Q", scale=ys, axis=yaxis, title=None)

    gray = alt.Chart(up_df).mark_area(color=GRAY, clip=True).encode(x=X, y=Y)
    white = alt.Chart(lo_df).mark_area(color="white", clip=True).encode(x=X, y=Y)
    line = alt.Chart(mean_df).mark_line(color=INK, strokeWidth=5, clip=True,
                                        strokeJoin="round").encode(x=X, y=Y)
    label = alt.Chart(pd.DataFrame({"s": [name]})).mark_text(
        font=FONT, fontSize=30, fontWeight="bold", color=INK,
        align="center", baseline="middle",
    ).encode(text="s:N", x=alt.value(title_xy[0]), y=alt.value(title_xy[1]))
    layers = [gray, white, line, label]
    if with_top_rule:
        rule = alt.Chart(pd.DataFrame({"s": [0]})).mark_rule(
            color="#222222", strokeWidth=1.5, clip=False
        ).encode(x=alt.value(-4), x2=alt.value(971), y=alt.value(-13))
        layers.append(rule)
    return alt.layer(*layers).properties(width=width, height=PANEL_H)


cells = [make_panel(name, up, lo, mean, side, txy,
                    with_top_rule=(i == 0), bottom_row=(i >= 6))
         for i, (name, up, lo, mean, side, txy) in enumerate(PANELS)]

chart = alt.concat(
    *cells, columns=2, spacing={"row": 56, "column": 109},
    bounds="flush", align="each",
).properties(
    padding={"top": -2, "left": 0, "right": -8, "bottom": -4}
).configure_view(stroke=None).configure_axis(
    domainColor=AXIS_GRAY, domainWidth=1.5, tickColor=AXIS_GRAY, tickWidth=1.5,
    labelColor=INK, labelFont=FONT, labelFontSize=27, labelFontWeight="bold",
)

chart.save("out.html", embed_options={"renderer": "svg", "actions": False})
